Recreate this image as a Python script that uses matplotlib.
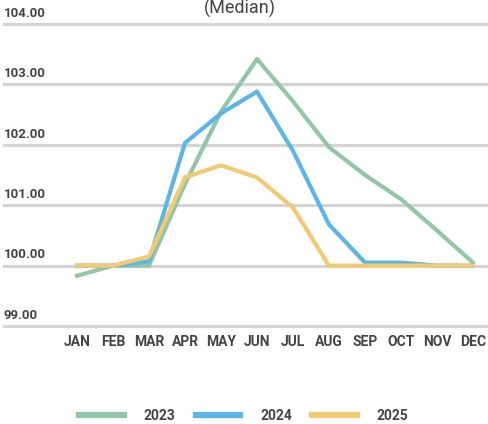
import matplotlib
matplotlib.use("Agg")
import matplotlib.pyplot as plt
from matplotlib.lines import Line2D

plt.rcParams['font.family'] = ['Roboto', 'DejaVu Sans']

months = ['JAN', 'FEB', 'MAR', 'APR', 'MAY', 'JUN', 'JUL', 'AUG', 'SEP', 'OCT', 'NOV', 'DEC']
y2023 = [99.83, 100.0, 100.0, 101.35, 102.55, 103.42, 102.72, 101.96, 101.50, 101.10, 100.58, 100.05]
y2024 = [100.0, 100.0, 100.07, 102.03, 102.52, 102.88, 101.90, 100.68, 100.05, 100.05, 100.0, 100.0]
y2025 = [100.0, 100.0, 100.15, 101.46, 101.66, 101.46, 100.96, 100.0, 100.0, 100.0, 100.0, 100.0]
yticks = [99, 100, 101, 102, 103, 104]

colors = {'2023': '#93c6a6', '2024': '#5cb5e6', '2025': '#f1ca72'}

fig = plt.figure(figsize=(4.89, 4.24), dpi=100)
ax = fig.add_axes([0.0, 0.224, 1.0, 0.7265])
x = list(range(len(months)))

x_left = -77 / 36
for yv in yticks:
    ax.axhline(yv, color='#d4d4d4', lw=2.3, zorder=1, xmin=4/489)
    ax.text(x_left + 4 / 36, yv + 0.07, f'{yv:.2f}', fontsize=9.5, fontweight='bold',
            color='#444444', ha='left', va='bottom')

ax.plot(x, y2023, color=colors['2023'], lw=3, zorder=3)
ax.plot(x, y2024, color=colors['2024'], lw=3, zorder=4)
ax.plot(x, y2025, color=colors['2025'], lw=3, zorder=5)

ax.set_xlim(x_left, (489 - 77) / 36)
ax.set_ylim(98.95, 104.05)
ax.axis('off')

for i, m in enumerate(months):
    ax.text(i, 98.73, m, fontsize=10, fontweight='bold', color='#444444',
            ha='center', va='center')

fig.text(0.491, 0.981, '(Median)', fontsize=13, color='#444444', ha='center', va='center')

handles = [Line2D([], [], color=colors[k], lw=4.5) for k in colors]
leg = fig.legend(handles, list(colors.keys()), loc='center', bbox_to_anchor=(0.499, 0.02),
                 ncol=3, frameon=False, handlelength=3.2, columnspacing=1.45,
                 handletextpad=1.45, prop={'weight': 'bold', 'size': 10})
for t in leg.get_texts():
    t.set_color('#444444')

fig.savefig('out.png', dpi=100)
